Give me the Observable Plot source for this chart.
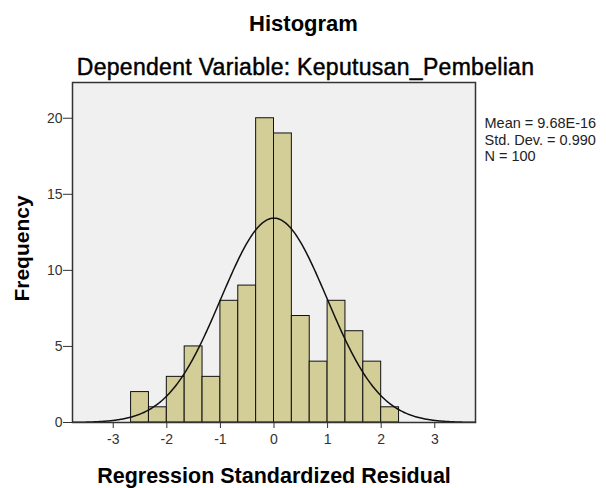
<!DOCTYPE html>
<html><head><meta charset="utf-8">
<script src="https://cdn.jsdelivr.net/npm/d3@7"></script>
<script src="https://cdn.jsdelivr.net/npm/@observablehq/plot@0.6"></script>
<style>body{margin:0;background:#fff}</style>
</head><body><div id="chart"></div>
<script>
// Histogram bins (left edges, width 1/3) and frequencies
const binLeft = [-8/3, -7/3, -2, -5/3, -4/3, -1, -2/3, -1/3, 0, 1/3, 2/3, 1, 4/3, 5/3, 2];
const binWidth = 1/3;
const counts = [2, 1, 3, 5, 3, 8, 9, 20, 19, 7, 4, 8, 6, 4, 1];
const xTicks = [-3, -2, -1, 0, 1, 2, 3];
const yTicks = [0, 5, 10, 15, 20];
// Summary statistics shown in the legend (define the normal curve)
const statMean = 9.68e-16;
const statSD = 0.990;
const statN = 100;
const statLines = ["Mean = 9.68E-16", "Std. Dev. = 0.990", "N = 100"];
const titleText = "Histogram";
const subtitleText = "Dependent Variable: Keputusan_Pembelian";
const xLabel = "Regression Standardized Residual";
const yLabel = "Frequency";

const bins = binLeft.map((x0, i) => ({x1: x0, x2: x0 + binWidth, count: counts[i]}));
const curveX = d3.range(-3.76, 3.7601, 0.02);
const curve = curveX.map(x => ({x, y: statN * binWidth * Math.exp(-0.5 * ((x - statMean) / statSD) ** 2) / (statSD * Math.sqrt(2 * Math.PI))}));

const chart = Plot.plot({
  width: 606, height: 488,
  marginLeft: 72, marginRight: 131, marginTop: 82, marginBottom: 66,
  style: {fontFamily: "'Liberation Sans', Arial, sans-serif", background: "#fff", overflow: "visible"},
  x: {domain: [-3.76, 3.76]},
  y: {domain: [0, 22.35]},
  marks: [
    Plot.frame({fill: "#f0f0f0", stroke: "none"}),
    Plot.rectY(bins, {x1: "x1", x2: "x2", y: "count", fill: "#d3ce97", stroke: "#111", strokeWidth: 1, inset: 0}),
    Plot.line(curve, {x: "x", y: "y", stroke: "#111", strokeWidth: 1.5}),
    Plot.frame({stroke: "#333", strokeWidth: 1.5}),
    Plot.axisX({ticks: xTicks, tickSize: 6, tickPadding: 6, fontSize: 14, color: "#333", label: null, tickFormat: d => d < 0 ? "-" + Math.abs(d) : String(d)}),
    Plot.axisY({ticks: yTicks, tickSize: 9, tickPadding: 1, fontSize: 14, color: "#333", label: null}),
    Plot.text([titleText], {frameAnchor: "top-left", dx: 231, dy: -52, text: d => d, textAnchor: "middle", lineAnchor: "bottom", fontSize: 22, fontWeight: "bold", fill: "#000"}),
    Plot.text([subtitleText], {frameAnchor: "top-left", dx: 233, dy: -8, text: d => d, textAnchor: "middle", lineAnchor: "bottom", fontSize: 23, fill: "#000", stroke: "#000", strokeWidth: 0.45}),
    Plot.text([statLines.join("\n")], {frameAnchor: "top-right", dx: 9, dy: 34, text: d => d, textAnchor: "start", lineAnchor: "top", lineHeight: 1.13, fontSize: 14.5, fill: "#222"}),
    Plot.text([xLabel], {frameAnchor: "bottom", dy: 60, text: d => d, textAnchor: "middle", lineAnchor: "bottom", fontSize: 21.5, fontWeight: "bold", fill: "#000"}),
    Plot.text([yLabel], {frameAnchor: "left", dx: -50, dy: -4, rotate: -90, text: d => d, textAnchor: "middle", lineAnchor: "middle", fontSize: 21, fontWeight: "bold", fill: "#000"})
  ]
});
d3.select(chart).selectAll("text").filter(function() { return this.textContent === subtitleText; }).attr("letter-spacing", "0.3px");
document.getElementById("chart").append(chart);
</script>
</body></html>
